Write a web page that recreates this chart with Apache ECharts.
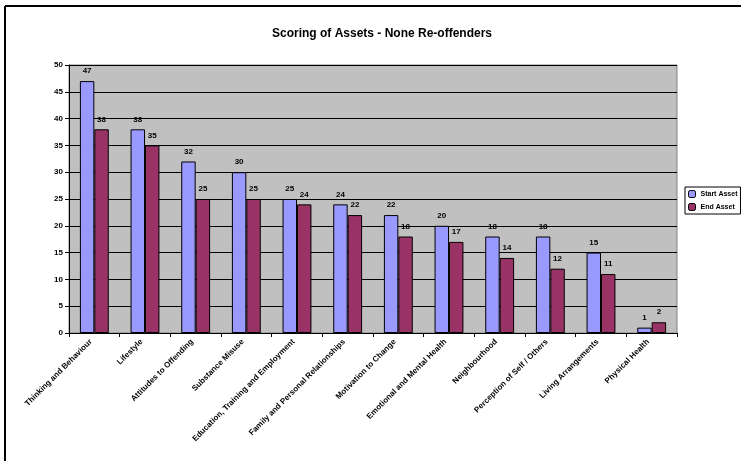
<!DOCTYPE html>
<html>
<head>
<meta charset="utf-8">
<script src="https://cdn.jsdelivr.net/npm/echarts@6/dist/echarts.min.js"></script>
<style>html,body{margin:0;padding:0;background:#fff}#c{width:741px;height:461px}</style>
</head>
<body>
<div id="c"></div>
<script>
const categories = ["Thinking and Behaviour","Lifestyle","Attitudes to Offending","Substance Misuse","Education, Training and Employment","Family and Personal Relationships","Motivation to Change","Emotional and Mental Health","Neighbourhood","Perception of Self / Others","Living Arrangements","Physical Health"];
const startAsset = [47,38,32,30,25,24,22,20,18,18,15,1];
const endAsset = [38,35,25,25,24,22,18,17,14,12,11,2];
const yTicks = {min:0,max:50,interval:5};

const chart = echarts.init(document.getElementById('c'), null, {renderer:'canvas'});
const font = 'Arial, "Liberation Sans", sans-serif';
chart.setOption({
  animation:false,
  backgroundColor:'#fff',
  title:{text:'Scoring of Assets - None Re-offenders',left:377,textAlign:'center',top:23,
    textStyle:{fontFamily:font,fontSize:12,fontWeight:'bold',color:'#000'}},
  legend:{orient:'vertical',left:685,top:187,itemWidth:7,itemHeight:7,itemGap:5,
    borderColor:'#000',borderWidth:1,padding:[3,3,3,3],
    textStyle:{fontFamily:font,fontSize:7,fontWeight:'bold',color:'#000'},
    data:[{name:'Start Asset',itemStyle:{borderColor:'#000',borderWidth:1}},{name:'End Asset',itemStyle:{borderColor:'#000',borderWidth:1}}]},
  grid:{left:69,right:64,top:65,bottom:128,show:true,backgroundColor:'#C0C0C0',borderColor:'#808080',borderWidth:1,containLabel:false},
  xAxis:{type:'category',data:categories,
    axisLine:{lineStyle:{color:'#000',width:1}},
    axisTick:{show:true,length:4,lineStyle:{color:'#000'}},
    axisLabel:{rotate:45,interval:0,fontFamily:font,fontSize:8,fontWeight:'bold',color:'#000',margin:4,padding:[0,5,0,0]}},
  yAxis:{type:'value',min:yTicks.min,max:yTicks.max,interval:yTicks.interval,
    axisLine:{show:true,lineStyle:{color:'#000'}},
    axisTick:{show:true,length:4,lineStyle:{color:'#000'}},
    splitLine:{lineStyle:{color:'#000',width:1}},
    axisLabel:{fontFamily:font,fontSize:8,fontWeight:'bold',color:'#000',margin:6}},
  series:[
    {name:'Start Asset',type:'bar',data:startAsset,barGap:'0%',barCategoryGap:'43%',
      itemStyle:{color:'#9999FF',borderColor:'#000',borderWidth:1},
      label:{show:true,position:'top',distance:6,fontFamily:font,fontSize:8,fontWeight:'bold',color:'#000'}},
    {name:'End Asset',type:'bar',data:endAsset,barGap:'0%',barCategoryGap:'43%',
      itemStyle:{color:'#993366',borderColor:'#000',borderWidth:1},
      label:{show:true,position:'top',distance:6,fontFamily:font,fontSize:8,fontWeight:'bold',color:'#000'}}
  ],
  graphic:[
    {type:'line',shape:{x1:5,y1:6,x2:741,y2:6},style:{stroke:'#000',lineWidth:2},z:100},
    {type:'line',shape:{x1:5,y1:6,x2:5,y2:461},style:{stroke:'#000',lineWidth:2},z:100}
  ]
});
</script>
</body>
</html>
